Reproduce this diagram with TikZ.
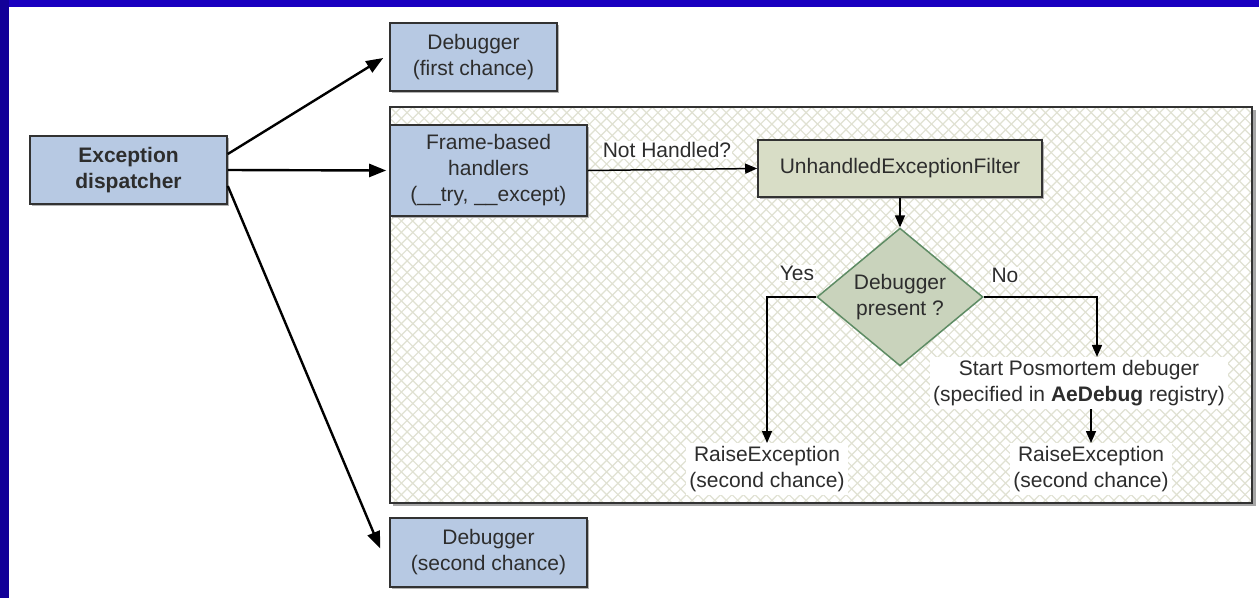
\documentclass[tikz,border=0pt]{standalone}
\usepackage{fontspec}
\setmainfont{Liberation Sans}
\usetikzlibrary{arrows.meta,shapes.geometric,calc,shadows}
\definecolor{frameblueT}{RGB}{26,0,192}
\definecolor{frameblueL}{RGB}{18,0,152}
\definecolor{boxblue}{RGB}{183,201,227}
\definecolor{boxgreen}{RGB}{216,221,198}
\definecolor{diagreen}{RGB}{201,211,188}
\definecolor{diaborder}{RGB}{94,140,100}
\definecolor{hatch}{RGB}{224,225,210}
\definecolor{txt}{RGB}{45,45,45}
\definecolor{edge}{RGB}{50,50,50}
\begin{document}
\begin{tikzpicture}[x=1pt,y=-1pt,
  every node/.style={font=\fontsize{21}{26}\selectfont, text=txt, align=center, inner sep=2pt},
  bluebox/.style={draw=edge, line width=1.6pt, fill=boxblue, inner sep=0pt,
     drop shadow={shadow xshift=2pt, shadow yshift=-2pt, fill=gray!60, opacity=1}},
  greenbox/.style={draw=edge, line width=1.6pt, fill=boxgreen, inner sep=0pt,
     drop shadow={shadow xshift=2pt, shadow yshift=-2pt, fill=gray!60, opacity=1}},
  bigarrow/.style={line width=2.4pt, draw=black, -{Triangle[length=17pt,width=13pt]}},
  smallarrow/.style={line width=1.5pt, draw=black, -{Triangle[length=12pt,width=10pt]}},
  lbl/.style={fill=white, inner sep=3pt}
]
\useasboundingbox (0,0) rectangle (1259,598);
\fill[white] (0,0) rectangle (1259,598);
\fill[frameblueT] (0,0) rectangle (1259,7);
\fill[frameblueL] (0,0) rectangle (9,598);

% container with hatching
\fill[gray!70] (393,110) rectangle (1256,506);
\fill[white] (390,107) rectangle (1252,503);
\begin{scope}
  \clip (390,107) rectangle (1252,503);
  \foreach \i in {-40,...,115} {
    \draw[hatch, line width=1.2pt] (390+\i*11.4,107) -- ++(396,396);
    \draw[hatch, line width=1.2pt] (390+\i*11.4,107) -- ++(-396,396);
  }
\end{scope}
\draw[edge, line width=1.6pt] (390,107) rectangle (1252,503);

% boxes
\node[bluebox, minimum width=197pt, minimum height=68pt] (disp) at (128.5,170) {\textbf{Exception}\\\textbf{dispatcher}};
\node[bluebox, minimum width=167pt, minimum height=68pt] (fc) at (473.5,57) {Debugger\\(first chance)};
\node[bluebox, minimum width=197pt, minimum height=91pt] (fb) at (488.5,170.5) {Frame-based\\handlers\\(\_\_try, \_\_except)};
\node[bluebox, minimum width=197pt, minimum height=69pt] (sc) at (488.5,552.5) {Debugger\\(second chance)};
\node[greenbox, minimum width=284pt, minimum height=57pt] (uef) at (900,168.5) {UnhandledExceptionFilter};
\node[diamond, draw=diaborder, line width=1.5pt, fill=diagreen, minimum width=166pt, minimum height=132pt, inner sep=0pt] (dia) at (900,297) {Debugger\\present ?};

\node[lbl] (rl) at (767,469) {RaiseException\\(second chance)};
\node[lbl] (pm) at (1079,383) {Start Posmortem debuger\\(specified in \textbf{AeDebug} registry)};
\node[lbl] (rr) at (1091,469) {RaiseException\\(second chance)};

% labels
\node[lbl, inner sep=1pt] (nh) at (667,150) {Not Handled?};
\node[lbl, inner sep=1pt] (yes) at (797,273) {Yes};
\node[lbl, inner sep=1pt] (no) at (1005,275) {No};

% connectors from dispatcher
\draw[bigarrow] ([yshift=16pt]disp.east) -- ([xshift=-6pt,yshift=-1pt]fc.west);
\draw[bigarrow] (disp.east) -- ([xshift=-3pt]fb.west);
\draw[bigarrow] ([yshift=-16pt]disp.east) -- ([xshift=-9pt,yshift=4pt]sc.west);

% inner connectors
\draw[smallarrow] (fb.east) -- (uef.west);
\draw[smallarrow] (uef.south) -- (dia.north);
\draw[smallarrow] (dia.west) -| (rl.north);
\draw[smallarrow] (dia.east) -| ([xshift=18pt]pm.north);
\draw[smallarrow] (pm.south -| rr.north) -- (rr.north);
\end{tikzpicture}
\end{document}
